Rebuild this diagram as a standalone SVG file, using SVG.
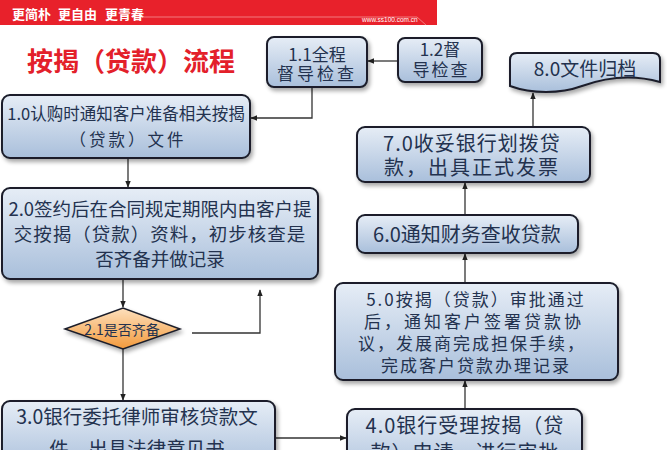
<svg xmlns="http://www.w3.org/2000/svg" width="667" height="450" viewBox="0 0 667 450">
<defs>
<linearGradient id="gb" x1="0" y1="0" x2="0" y2="1">
<stop offset="0" stop-color="#e6edf6"/>
<stop offset="1" stop-color="#a9bfdb"/>
</linearGradient>
<linearGradient id="go" x1="0" y1="0" x2="0" y2="1">
<stop offset="0" stop-color="#fde0bd"/>
<stop offset="1" stop-color="#f39a3c"/>
</linearGradient>
<filter id="sh" x="-10%" y="-10%" width="130%" height="140%">
<feGaussianBlur in="SourceAlpha" stdDeviation="2"/>
<feOffset dx="2" dy="3" result="b"/>
<feComponentTransfer><feFuncA type="linear" slope="0.35"/></feComponentTransfer>
<feMerge><feMergeNode/><feMergeNode in="SourceGraphic"/></feMerge>
</filter>
<marker id="ar" viewBox="0 0 10 10" refX="9" refY="5" markerWidth="7" markerHeight="7" markerUnits="userSpaceOnUse" orient="auto">
<path d="M0,1 L10,5 L0,9 Z" fill="#222"/>
</marker>
<style>
.bx{fill:url(#gb);stroke:#1b1f2b;stroke-width:2;filter:url(#sh)}
.dm{fill:url(#go);stroke:#1b1f2b;stroke-width:1.5;filter:url(#sh)}
.t{font-family:"Noto Sans CJK SC","Noto Sans",sans-serif;fill:#23324f;text-anchor:middle}
.h{font-family:"Noto Sans CJK SC",sans-serif;font-size:13px;font-weight:bold;fill:#fff}
.c{fill:none;stroke:#333;stroke-width:1.3;marker-end:url(#ar)}
</style>
</defs>
<rect width="667" height="450" fill="#fff"/>
<g id="header">
<rect x="0" y="0" width="437" height="25" fill="#e8212b"/>
<text class="h" x="12" y="19">更简朴</text>
<text class="h" x="58" y="19">更自由</text>
<text class="h" x="105" y="19">更青春</text>
<path d="M142,17 H417 L426,25" fill="none" stroke="#f7a0a0" stroke-width="0.7"/>
<text x="362" y="22" font-family="Liberation Sans,sans-serif" font-size="6.5" fill="#fff">www.ss100.com.cn</text>
</g>
<g id="title">
<text x="27" y="71" font-family="Noto Sans CJK SC,sans-serif" font-size="26" font-weight="bold" fill="#e3202a">按揭（贷款）流程</text>
</g>
<g id="connectors">
<path class="c" d="M398,61 H368"/>
<path class="c" d="M312,87 V118 H251"/>
<path class="c" d="M128,158 V187"/>
<path class="c" d="M123,279 V307"/>
<path class="c" d="M192,333 H260 V290"/>
<path class="c" d="M123,349 V400"/>
<path class="c" d="M275,438 H346"/>
<path class="c" d="M465,409 V381"/>
<path class="c" d="M465,283 V254"/>
<path class="c" d="M465,215 V183"/>
<path class="c" d="M533,127 V93"/>
</g>
<g id="n11">
<rect class="bx" x="267" y="37" width="100" height="50" rx="7"/>
<text class="t" font-size="17"><tspan x="317" y="61">1.1全程</tspan><tspan x="317" y="80" letter-spacing="3">督导检查</tspan></text>
</g>
<g id="n12">
<rect class="bx" x="398" y="38" width="84" height="44" rx="7"/>
<text class="t" font-size="17"><tspan x="440" y="56">1.2督</tspan><tspan x="441" y="76" letter-spacing="2">导检查</tspan></text>
</g>
<g id="n80">
<path class="bx" d="M510,60 Q510,53 517,53 H653 Q660,53 660,60 V82 C632,74 604,78 582,86 C560,94 532,94 510,86 Z"/>
<text class="t" x="585" y="76" font-size="19">8.0文件归档</text>
</g>
<g id="n10">
<rect class="bx" x="2" y="95" width="248" height="63" rx="8"/>
<text class="t" font-size="16.5"><tspan x="126" y="120">1.0认购时通知客户准备相关按揭</tspan><tspan x="128" y="146" letter-spacing="3">（贷款）文件</tspan></text>
</g>
<g id="n70">
<rect class="bx" x="357" y="127" width="233" height="55" rx="8"/>
<text class="t" font-size="20"><tspan x="472" y="151" letter-spacing="1">7.0收妥银行划拨贷</tspan><tspan x="472" y="175" letter-spacing="2">款，出具正式发票</tspan></text>
</g>
<g id="n20">
<rect class="bx" x="2" y="188" width="316" height="91" rx="8"/>
<text class="t" font-size="18.5"><tspan x="160" y="216">2.0签约后在合同规定期限内由客户提</tspan><tspan x="160" y="241" letter-spacing="1">交按揭（贷款）资料，初步核查是</tspan><tspan x="160" y="266">否齐备并做记录</tspan></text>
</g>
<g id="n60">
<rect class="bx" x="357" y="215" width="221" height="38" rx="8"/>
<text class="t" x="467" y="242" font-size="20">6.0通知财务查收贷款</text>
</g>
<g id="n50">
<rect class="bx" x="335" y="283" width="283" height="97" rx="8"/>
<text class="t" font-size="17" letter-spacing="2"><tspan x="476" y="306">5.0按揭（贷款）审批通过</tspan><tspan x="474" y="328" letter-spacing="3">后，通知客户签署贷款协</tspan><tspan x="472" y="350">议，发展商完成担保手续，</tspan><tspan x="476" y="372">完成客户贷款办理记录</tspan></text>
</g>
<g id="n21">
<path class="dm" d="M65,329 L123,308 L180,329 L123,349 Z"/>
<text class="t" x="122" y="335" font-size="14">2.1是否齐备</text>
</g>
<g id="n30">
<rect class="bx" x="2" y="401" width="273" height="70" rx="8"/>
<text class="t" font-size="19.5"><tspan x="137" y="424">3.0银行委托律师审核贷款文</tspan><tspan x="137" y="456">件，出具法律意见书</tspan></text>
</g>
<g id="n40">
<rect class="bx" x="347" y="409" width="235" height="70" rx="8"/>
<text class="t" font-size="20" letter-spacing="1"><tspan x="465" y="433">4.0银行受理按揭（贷</tspan><tspan x="465" y="460">款）申请，进行审批</tspan></text>
</g>
</svg>
